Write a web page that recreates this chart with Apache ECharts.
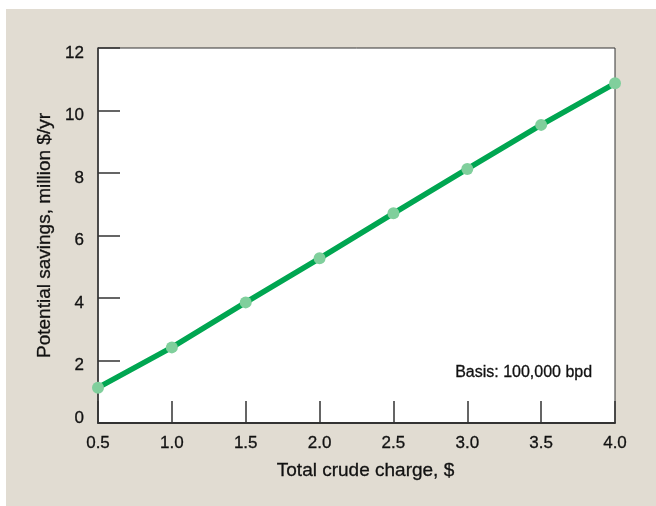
<!DOCTYPE html>
<html>
<head>
<meta charset="utf-8">
<script src="https://cdn.jsdelivr.net/npm/echarts@6/dist/echarts.min.js"></script>
<style>
  html, body { margin: 0; padding: 0; background: #ffffff; }
  #chart { position: absolute; left: 6px; top: 9px; width: 650px; height: 497px; }
</style>
</head>
<body>
<div id="chart"></div>
<script>
// values
var crudeCharge = [0.5, 1.0, 1.5, 2.0, 2.5, 3.0, 3.5, 4.0];
var savings = [1.13, 2.42, 3.86, 5.27, 6.71, 8.13, 9.54, 10.87];

var chart = echarts.init(document.getElementById('chart'));
var font = 'Liberation Sans, Arial, Helvetica, sans-serif';
var ink = '#111111';
// thin outline so the text reads a touch heavier, like the original's medium face
var heavy = { textBorderColor: ink, textBorderWidth: 0.3 };

var points = crudeCharge.map(function (x, i) { return [x, savings[i]]; });

var option = {
  backgroundColor: '#e1dcd2',
  animation: false,
  textStyle: { fontFamily: font },
  grid: {
    left: 92, top: 39, right: 41, bottom: 83,
    show: true, backgroundColor: '#ffffff',
    borderColor: '#333333', borderWidth: 1
  },
  xAxis: {
    type: 'value',
    min: 0.5, max: 4.0, interval: 0.5,
    name: 'Total crude charge, $',
    nameLocation: 'middle',
    nameGap: 38,
    nameTextStyle: Object.assign({ fontSize: 19, color: ink, fontFamily: font, padding: [0, 0, 0, 18] }, heavy),
    axisLine: { lineStyle: { color: '#333333', width: 2 } },
    axisTick: { inside: true, length: 22, lineStyle: { color: '#333333', width: 1.5 } },
    axisLabel: Object.assign({
      margin: 12, fontSize: 17, color: ink, fontFamily: font,
      formatter: function (v) { return v.toFixed(1); }
    }, heavy),
    splitLine: { show: false }
  },
  yAxis: {
    type: 'value',
    min: 0, max: 12, interval: 2,
    name: 'Potential savings, million $/yr',
    nameLocation: 'middle',
    nameGap: 40,
    nameTextStyle: Object.assign({ fontSize: 19, color: ink, fontFamily: font }, heavy),
    axisLine: { show: true, lineStyle: { color: '#333333', width: 1.5 } },
    axisTick: { show: true, inside: true, length: 22, lineStyle: { color: '#333333', width: 1.5 } },
    axisLabel: {
      margin: 14, fontSize: 17, color: ink, fontFamily: font,
      formatter: function (v) { return v === 0 ? '{z|0}' : '{n|' + v + '}'; },
      rich: {
        n: Object.assign({ fontSize: 17, color: ink, fontFamily: font, padding: [10, 0, 0, 0] }, heavy),
        z: Object.assign({ fontSize: 17, color: ink, fontFamily: font, padding: [0, 0, 10, 0] }, heavy)
      }
    },
    splitLine: { show: false }
  },
  graphic: [{
    type: 'text',
    left: 449, top: 355,
    style: { text: 'Basis: 100,000 bpd', fontSize: 16, fill: ink, fontFamily: font, stroke: ink, lineWidth: 0.3 }
  }],
  series: [{
    type: 'line',
    data: points,
    symbol: 'circle',
    symbolSize: 12,
    lineStyle: { color: '#00a651', width: 5.5 },
    itemStyle: { color: '#80cf9c' },
    z: 3
  }]
};

chart.setOption(option);
</script>
</body>
</html>
